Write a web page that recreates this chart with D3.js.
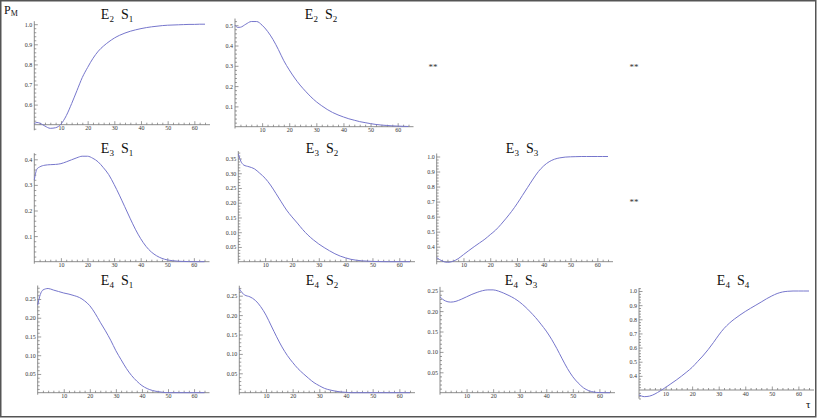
<!DOCTYPE html>
<html><head><meta charset="utf-8">
<script src="https://cdn.jsdelivr.net/npm/d3@7"></script>
<style>html,body{margin:0;padding:0;background:#fff;} svg{display:block;}</style>
</head><body>
<svg id="chart" width="817" height="418"></svg>
<script>
// ---------------- data ----------------
const taus = [0,1,2,4,6,8,10,12,14,16,18,20,22,24,26,28,30,32,34,36,38,40,42,44,46,48,50,52,54,56,58,60,62,64];

const valuesE2S1 = [0.505,0.511,0.508,0.493,0.482,0.485,0.503,0.545,0.605,0.67,0.735,0.785,0.83,0.866,0.892,0.913,0.931,0.945,0.956,0.965,0.972,0.978,0.983,0.987,0.99,0.993,0.995,0.996,0.997,0.998,0.999,0.999,1.0,1.0];
const valuesE2S2 = [0.50,0.489,0.49,0.505,0.518,0.518,0.50,0.47,0.43,0.38,0.325,0.28,0.24,0.205,0.175,0.147,0.123,0.103,0.085,0.07,0.058,0.048,0.039,0.032,0.025,0.02,0.015,0.011,0.008,0.006,0.004,0.003,0.002,0.001];
const valuesE3S1 = [0.32,0.362,0.37,0.377,0.379,0.38,0.383,0.39,0.398,0.406,0.412,0.412,0.404,0.39,0.367,0.34,0.302,0.26,0.215,0.17,0.127,0.09,0.06,0.038,0.023,0.013,0.007,0.004,0.002,0.001,0.0005,0,0,0];
const valuesE3S2 = [0.365,0.34,0.328,0.322,0.315,0.30,0.283,0.26,0.232,0.203,0.175,0.152,0.131,0.109,0.09,0.074,0.06,0.048,0.037,0.027,0.019,0.013,0.008,0.005,0.003,0.002,0.001,0.0005,0.0002,0,0,0,0,0];
const valuesE3S3 = [0.327,0.315,0.305,0.296,0.302,0.32,0.347,0.374,0.40,0.425,0.45,0.48,0.51,0.548,0.59,0.635,0.685,0.74,0.795,0.85,0.90,0.938,0.965,0.982,0.991,0.996,0.998,0.999,1.0,1.0,1.0,1.0,1.0,1.0];
const valuesE4S1 = [0.234,0.262,0.274,0.278,0.274,0.27,0.266,0.263,0.259,0.254,0.245,0.232,0.212,0.188,0.165,0.14,0.112,0.088,0.065,0.046,0.031,0.019,0.011,0.006,0.003,0.001,0,0,0,0,0,0,0,0];
const valuesE4S2 = [0.268,0.258,0.252,0.247,0.238,0.222,0.20,0.172,0.144,0.118,0.096,0.078,0.062,0.049,0.037,0.026,0.018,0.011,0.007,0.004,0.002,0.001,0,0,0,0,0,0,0,0,0,0,0,0];
const valuesE4S3 = [0.235,0.229,0.225,0.222,0.224,0.229,0.235,0.241,0.246,0.25,0.252,0.252,0.249,0.244,0.238,0.231,0.222,0.211,0.198,0.184,0.168,0.151,0.131,0.108,0.083,0.059,0.039,0.024,0.012,0.005,0.0015,0.0003,0,0];
const valuesE4S4 = [0.265,0.257,0.253,0.257,0.272,0.294,0.318,0.344,0.37,0.398,0.428,0.46,0.50,0.54,0.585,0.635,0.688,0.735,0.772,0.803,0.83,0.855,0.878,0.90,0.922,0.945,0.965,0.982,0.993,0.998,1.0,1.0,1.0,1.0];

const xTickValues = [10,20,30,40,50,60];
const yTicksE2S1 = [0.6,0.7,0.8,0.9,1.0];
const yTicksE2S2 = [0.1,0.2,0.3,0.4,0.5];
const yTicksE3S1 = [0.1,0.2,0.3,0.4];
const yTicksE3S2 = [0.05,0.10,0.15,0.20,0.25,0.30,0.35];
const yTicksE3S3 = [0.4,0.5,0.6,0.7,0.8,0.9,1.0];
const yTicksE4S1 = [0.05,0.10,0.15,0.20,0.25];
const yTicksE4S2 = [0.05,0.10,0.15,0.20,0.25];
const yTicksE4S3 = [0.05,0.10,0.15,0.20,0.25];
const yTicksE4S4 = [0.4,0.5,0.6,0.7,0.8,0.9,1.0];

const eIndex = ["2","2","3","3","3","4","4","4","4"];
const sIndex = ["1","2","1","2","3","1","2","3","4"];
const yAxisLabel = ["P","M"];
const xAxisLabel = "τ";
const emptyMark = "**";

// ---------------- layout (pixels) ----------------
const layouts = [
  {x0:34.3, x1:205,   oPx:124.7, topPx:24.2,  tx:117, ty:18.5},
  {x0:235,  x1:408.5, oPx:126.7, topPx:25.2,  tx:321, ty:18.5},
  {x0:34.3, x1:204.5, oPx:261.7, topPx:159.3, tx:117, ty:152.5},
  {x0:238.3,x1:410,   oPx:261.7, topPx:158.5, tx:322, ty:152.5},
  {x0:436.7,x1:608,   oPx:261.7, topPx:156.5, tx:522, ty:152.5},
  {x0:37.7, x1:204.5, oPx:392.7, topPx:299,   tx:117, ty:284.5},
  {x0:239.3,x1:410,   oPx:392.7, topPx:295.7, tx:322, ty:284.5},
  {x0:440,  x1:610,   oPx:392.7, topPx:290.7, tx:521, ty:284.5},
  {x0:639,  x1:809,   oPx:390,   topPx:291,   tx:733, ty:284.5}
];
const emptyCells = [[433,66],[634,66],[634,201]];

const panels = [
  {values:valuesE2S1, ticks:yTicksE2S1, origin:0.5},
  {values:valuesE2S2, ticks:yTicksE2S2, origin:0},
  {values:valuesE3S1, ticks:yTicksE3S1, origin:0},
  {values:valuesE3S2, ticks:yTicksE3S2, origin:0},
  {values:valuesE3S3, ticks:yTicksE3S3, origin:0.3},
  {values:valuesE4S1, ticks:yTicksE4S1, origin:0},
  {values:valuesE4S2, ticks:yTicksE4S2, origin:0},
  {values:valuesE4S3, ticks:yTicksE4S3, origin:0},
  {values:valuesE4S4, ticks:yTicksE4S4, origin:0.3}
].map((p,i)=>Object.assign(p,{e:eIndex[i], s:sIndex[i], lay:layouts[i]}));

// ---------------- drawing ----------------
const svg = d3.select("#chart");
const SERIF = "'Liberation Serif','Times New Roman',serif";
const AXIS_COL = "#707070";
const CURVE_COL = "#7676cc";

svg.append("rect").attr("x",0).attr("y",0).attr("width",817).attr("height",418).attr("fill","#fff");

panels.forEach(p=>{
  const L = p.lay;
  const topVal = p.ticks[p.ticks.length-1];
  const step = p.ticks[1]-p.ticks[0];
  const minorStep = step/5;
  const decimals = step < 0.09 ? 2 : 1;
  const x = d3.scaleLinear().domain([0,64]).range([L.x0, L.x1]);
  const y = d3.scaleLinear().domain([p.origin, topVal]).range([L.oPx, L.topPx]);
  const g = svg.append("g");

  const dMax = d3.max(p.values), dMin = d3.min(p.values);
  const yAxTop = Math.min(y(topVal), y(dMax)) - 3;
  const yAxBot = Math.max(L.oPx, y(dMin) + 2);

  // axis lines
  g.append("line").attr("x1",L.x0).attr("x2",L.x1+5).attr("y1",L.oPx).attr("y2",L.oPx)
    .attr("stroke",AXIS_COL).attr("stroke-width",0.8);
  g.append("line").attr("x1",L.x0).attr("x2",L.x0).attr("y1",yAxTop).attr("y2",yAxBot)
    .attr("stroke",AXIS_COL).attr("stroke-width",0.8);

  // x ticks
  const xMinor = d3.range(2,65,2).filter(v=>v%10!==0);
  const xa = d3.axisBottom(x).tickValues(xTickValues).tickSizeInner(-3.5).tickSizeOuter(0).tickPadding(2)
    .tickFormat(d3.format("d"));
  const xg = g.append("g").attr("transform",`translate(0,${L.oPx})`).call(xa);
  xg.select(".domain").remove();
  const xm = d3.axisBottom(x).tickValues(xMinor).tickSizeInner(-2).tickSizeOuter(0).tickFormat("");
  const xmg = g.append("g").attr("transform",`translate(0,${L.oPx})`).call(xm);
  xmg.select(".domain").remove();

  // y ticks
  const topAxVal = y.invert(yAxTop), botAxVal = y.invert(yAxBot);
  const yMinor = d3.range(Math.ceil((botAxVal+1e-9)/minorStep), Math.floor(topAxVal/minorStep)+1)
    .map(k=>+(k*minorStep).toFixed(4))
    .filter(v=> Math.abs(v/step - Math.round(v/step))>1e-6 && Math.abs(v-p.origin)>1e-6);
  const ya = d3.axisLeft(y).tickValues(p.ticks).tickSizeInner(-3.5).tickSizeOuter(0).tickPadding(2)
    .tickFormat(d3.format(`.${decimals}f`));
  const yg = g.append("g").attr("transform",`translate(${L.x0},0)`).call(ya);
  yg.select(".domain").remove();
  const ym = d3.axisLeft(y).tickValues(yMinor).tickSizeInner(-2).tickSizeOuter(0).tickFormat("");
  const ymg = g.append("g").attr("transform",`translate(${L.x0},0)`).call(ym);
  ymg.select(".domain").remove();

  [xg,xmg,yg,ymg].forEach(a=>{
    a.selectAll("line").attr("stroke",AXIS_COL).attr("stroke-width",0.7);
    a.selectAll("text").attr("fill","#333").style("font-family",SERIF).style("font-size","6px");
  });
  xg.selectAll("text").attr("dy","0.6em");

  // curve
  const line = d3.line().x((d,i)=>x(taus[i])).y(d=>y(d)).curve(d3.curveMonotoneX);
  g.append("path").datum(p.values).attr("d",line).attr("fill","none")
    .attr("stroke",CURVE_COL).attr("stroke-width",1);

  // title
  const t = g.append("text").attr("x",L.tx).attr("y",L.ty).attr("text-anchor","middle")
    .style("font-family",SERIF).style("font-size","14px").attr("fill","#111");
  t.append("tspan").text("E");
  t.append("tspan").attr("dy",3).style("font-size","9px").text(p.e);
  t.append("tspan").attr("dy",-3).attr("dx",7).text("S");
  t.append("tspan").attr("dy",3).style("font-size","9px").text(p.s);
});

// placeholders for empty cells
svg.selectAll("text.empty").data(emptyCells).join("text").attr("class","empty")
  .attr("x",d=>d[0]).attr("y",d=>d[1]+4).attr("text-anchor","middle")
  .style("font-family",SERIF).style("font-size","9px").attr("fill","#333").text(emptyMark);

// axis labels
const pl = svg.append("text").attr("x",4).attr("y",14).style("font-family",SERIF)
  .style("font-size","12px").attr("fill","#111");
pl.append("tspan").text(yAxisLabel[0]);
pl.append("tspan").attr("dy",1.5).style("font-size","8px").text(yAxisLabel[1]);
svg.append("text").attr("x",806).attr("y",408).style("font-family",SERIF)
  .style("font-size","11px").attr("fill","#111").text(xAxisLabel);

// frame
svg.append("rect").attr("x",0.75).attr("y",0.75).attr("width",815).attr("height",416)
  .attr("fill","none").attr("stroke","#555").attr("stroke-width",1.5);
</script>
</body></html>
